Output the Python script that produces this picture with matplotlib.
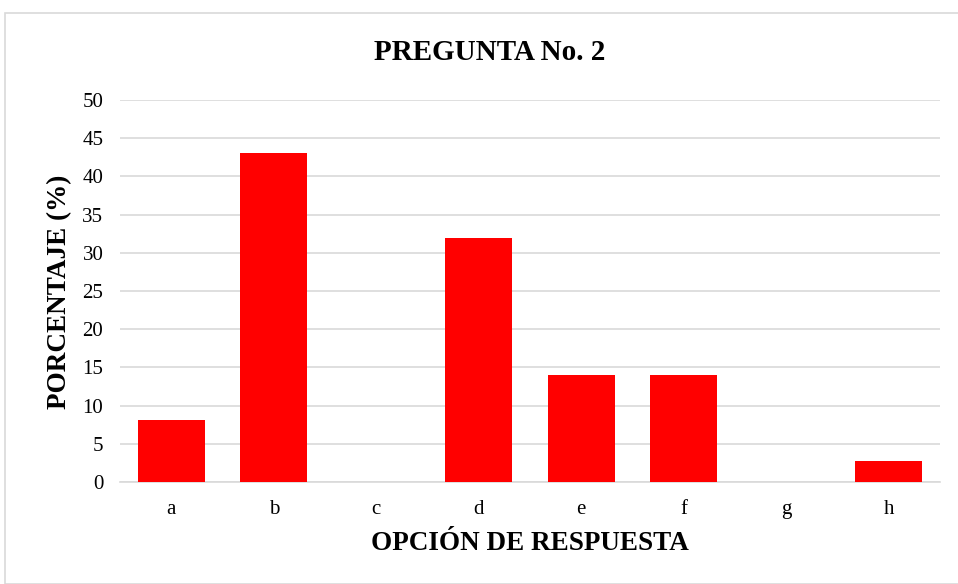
import matplotlib.pyplot as plt
from matplotlib.patches import Rectangle

categories = ["a", "b", "c", "d", "e", "f", "g", "h"]
values = [8.1, 43, 0, 32, 14, 14, 0, 2.7]
yticks = [0, 5, 10, 15, 20, 25, 30, 35, 40, 45, 50]

plt.rcParams['font.family'] = ['Liberation Serif', 'DejaVu Serif']

fig = plt.figure(figsize=(9.58, 5.84), dpi=100)
ax = fig.add_axes([120 / 958, 102 / 584, 820 / 958, 382 / 584])

# marco gris alrededor del gráfico
fig.patches.append(Rectangle((5 / 958, 0), 1, 1 - 13 / 584, transform=fig.transFigure,
                             fill=False, edgecolor="#d9d9d9", linewidth=1.2))

x = range(len(categories))
ax.bar(x, values, width=0.65, color="#ff0000", zorder=3)

ax.set_xlim(-0.5, len(categories) - 0.5)
ax.set_ylim(0, 50)
ax.set_yticks(yticks)
ax.set_xticks(list(x))
ax.set_xticklabels(categories)
ax.yaxis.grid(True, color="#d9d9d9", linewidth=1.2, zorder=0)
ax.tick_params(axis="both", length=0, labelsize=15)
ax.tick_params(axis="y", pad=12)
ax.tick_params(axis="x", pad=13)
for s in ["top", "right", "left"]:
    ax.spines[s].set_visible(False)
ax.spines["bottom"].set_color("#d9d9d9")
ax.spines["bottom"].set_linewidth(1.2)

fig.text(490 / 958, 1 - 53 / 584, "PREGUNTA No. 2", ha="center", va="center",
         fontsize=21, fontweight="bold")
fig.text(530 / 958, 1 - 544 / 584, "OPCIÓN DE RESPUESTA", ha="center", va="center",
         fontsize=19.5, fontweight="bold")
fig.text(60 / 958, 1 - 292 / 584, "PORCENTAJE (%)", ha="center", va="center",
         rotation=90, fontsize=19.5, fontweight="bold")

plt.savefig("out.png", dpi=100)
